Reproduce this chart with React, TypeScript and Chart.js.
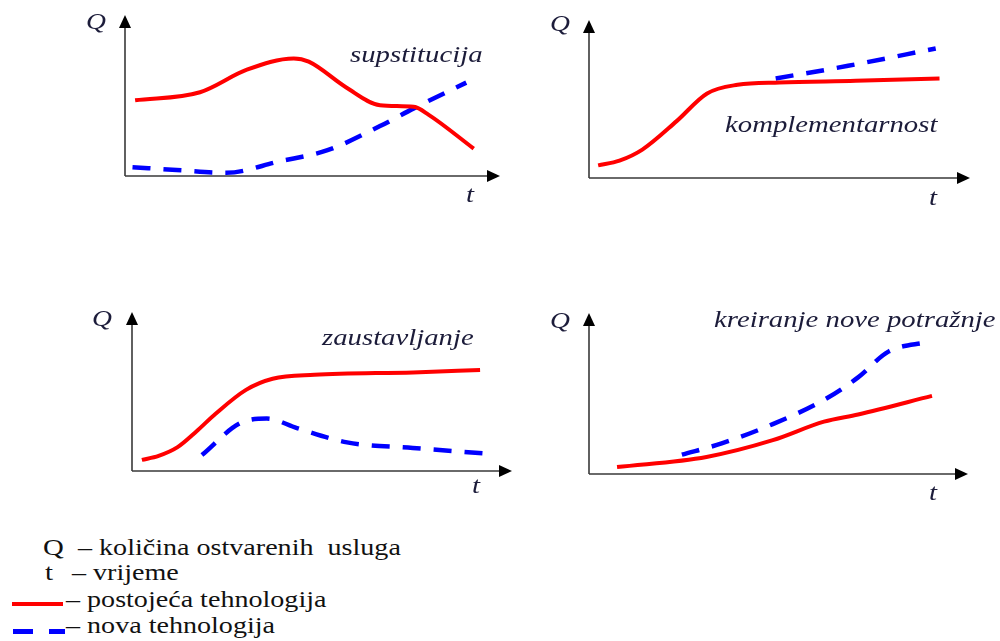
import React, { useEffect, useRef } from "react";
import { Chart, registerables } from "chart.js";

Chart.register(...registerables);

// ---------- data (t and Q on an arbitrary 0..10 scale) ----------
// Panel 1: supstitucija
const P1_RED_T = [0.27, 2.0, 3.25, 4.5, 4.9, 5.9, 6.8, 7.7, 8.1, 9.3];
const P1_RED_Q = [4.7, 5.2, 6.6, 7.3, 7.1, 5.5, 4.4, 4.3, 3.8, 1.7];
const P1_BLUE_T = [0.2, 1.5, 2.7, 4.1, 5.4, 6.8, 7.7, 9.1];
const P1_BLUE_Q = [0.55, 0.35, 0.2, 0.9, 1.6, 3.1, 4.2, 5.8];

// Panel 2: komplementarnost
const P2_RED_T = [0.24, 0.8, 1.4, 2.3, 3.1, 3.9, 5.0, 7.0, 9.2];
const P2_RED_Q = [0.8, 1.1, 1.8, 3.6, 5.35, 5.9, 6.05, 6.15, 6.3];
const P2_BLUE_T = [4.9, 6.8, 9.1];
const P2_BLUE_Q = [6.3, 7.1, 8.2];

// Panel 3: zaustavljanje
const P3_RED_T = [0.26, 0.7, 1.2, 1.7, 2.2, 3.0, 3.7, 4.8, 7.4, 9.16];
const P3_RED_Q = [0.7, 0.95, 1.5, 2.5, 3.6, 5.1, 5.8, 6.05, 6.2, 6.35];
const P3_BLUE_T = [1.84, 2.84, 3.55, 4.34, 5.66, 7.39, 9.29];
const P3_BLUE_Q = [1.0, 3.0, 3.3, 2.7, 1.8, 1.45, 1.1];

// Panel 4: kreiranje nove potražnje
const P4_RED_T = [0.74, 3.1, 4.85, 6.2, 7.1, 9.05];
const P4_RED_Q = [0.43, 1.06, 2.1, 3.25, 3.7, 4.85];
const P4_BLUE_T = [2.45, 3.5, 4.85, 6.2, 7.1, 7.9, 8.95];
const P4_BLUE_Q = [1.2, 1.9, 3.1, 4.6, 6.0, 7.6, 8.2];

const PANEL_TITLES = ["supstitucija", "komplementarnost", "zaustavljanje", "kreiranje nove potražnje"];
const AXIS_Y_LABEL = "Q";
const AXIS_X_LABEL = "t";
const LEGEND_LINES = [
  "– količina ostvarenih  usluga",
  "– vrijeme",
  "– postojeća tehnologija",
  "– nova tehnologija",
];

const RED = "#ff0000";
const BLUE = "#0000ff";
const TEXT = "#1c1c3a";
const SERIF = "'Liberation Serif', Tinos, 'Times New Roman', serif";

const zip = (t: number[], q: number[]) => t.map((x, i) => ({ x, y: q[i] }));

// chart area boxes (left, right, top, bottom) in page pixels
const PANELS = [
  { L: 125, R: 500, T: 15, B: 176, red: zip(P1_RED_T, P1_RED_Q), blue: zip(P1_BLUE_T, P1_BLUE_Q) },
  { L: 589, R: 970, T: 20, B: 178, red: zip(P2_RED_T, P2_RED_Q), blue: zip(P2_BLUE_T, P2_BLUE_Q) },
  { L: 132, R: 512, T: 312, B: 471, red: zip(P3_RED_T, P3_RED_Q), blue: zip(P3_BLUE_T, P3_BLUE_Q) },
  { L: 589, R: 968, T: 313, B: 474, red: zip(P4_RED_T, P4_RED_Q), blue: zip(P4_BLUE_T, P4_BLUE_Q) },
];

const PAD = { left: 30, top: 12, right: 20, bottom: 18 };

const arrowAxes = {
  id: "arrowAxes",
  beforeDatasetsDraw(chart: any) {
    const { ctx, chartArea } = chart;
    const { left, right, top, bottom } = chartArea;
    ctx.save();
    ctx.strokeStyle = "#3a3a3a";
    ctx.lineWidth = 1.6;
    ctx.beginPath();
    ctx.moveTo(left, bottom);
    ctx.lineTo(left, top + 10);
    ctx.moveTo(left, bottom);
    ctx.lineTo(right - 10, bottom);
    ctx.stroke();
    ctx.fillStyle = "#000";
    ctx.beginPath();
    ctx.moveTo(left, top);
    ctx.lineTo(left - 6, top + 13);
    ctx.lineTo(left + 6, top + 13);
    ctx.closePath();
    ctx.fill();
    ctx.beginPath();
    ctx.moveTo(right, bottom);
    ctx.lineTo(right - 13, bottom - 6);
    ctx.lineTo(right - 13, bottom + 6);
    ctx.closePath();
    ctx.fill();
    ctx.restore();
  },
};

function Panel({ p }: { p: typeof PANELS[number] }) {
  const ref = useRef<HTMLCanvasElement | null>(null);
  const w = p.R - p.L + PAD.left + PAD.right;
  const h = p.B - p.T + PAD.top + PAD.bottom;
  useEffect(() => {
    if (!ref.current) return;
    const chart = new Chart(ref.current, {
      type: "line",
      data: {
        datasets: [
          {
            data: p.red,
            borderColor: RED,
            borderWidth: 4,
            pointRadius: 0,
            cubicInterpolationMode: "monotone",
            fill: false,
            clip: false as any,
          },
          {
            data: p.blue,
            borderColor: BLUE,
            borderWidth: 4.5,
            borderDash: [18, 13],
            borderCapStyle: "butt",
            pointRadius: 0,
            cubicInterpolationMode: "monotone",
            fill: false,
            clip: false as any,
          },
        ],
      },
      options: {
        animation: false,
        responsive: false,
        events: [],
        layout: { padding: PAD },
        plugins: { legend: { display: false }, tooltip: { enabled: false }, title: { display: false } },
        scales: {
          x: { type: "linear", min: 0, max: 10, display: false },
          y: { type: "linear", min: 0, max: 10, display: false },
        },
      },
      plugins: [arrowAxes],
    } as any);
    return () => chart.destroy();
  }, []);
  return (
    <canvas
      ref={ref}
      width={w}
      height={h}
      style={{ position: "absolute", left: p.L - PAD.left, top: p.T - PAD.top, width: w, height: h }}
    />
  );
}

const SCALE = 1.2;

function Txt({
  x, baseline, size, italic, children, color, scale,
}: { x: number; baseline: number; size: number; italic?: boolean; children: React.ReactNode; color?: string; scale?: number }) {
  return (
    <span
      style={{
        position: "absolute",
        left: x,
        top: baseline - 0.8375 * size,
        fontFamily: SERIF,
        fontSize: size,
        lineHeight: `${size}px`,
        fontStyle: italic ? "italic" : "normal",
        color: color || TEXT,
        whiteSpace: "pre",
        display: "inline-block",
        transform: `scaleX(${scale ?? SCALE})`,
        transformOrigin: "left top",
      }}
    >
      {children}
    </span>
  );
}

export default function App() {
  const qPos = [
    { x: 86, b: 29 },
    { x: 550, b: 31 },
    { x: 92, b: 326 },
    { x: 550, b: 328 },
  ];
  const tPos = [
    { x: 466, b: 202 },
    { x: 929, b: 205 },
    { x: 472, b: 493 },
    { x: 929, b: 500 },
  ];
  const titlePos = [
    { x: 350, b: 62 },
    { x: 725, b: 132 },
    { x: 322, b: 345 },
    { x: 714, b: 327 },
  ];
  return (
    <div style={{ position: "absolute", left: 0, top: 0, width: 1000, height: 641, background: "#fff", overflow: "hidden" }}>
      {PANELS.map((p, i) => (
        <Panel key={i} p={p} />
      ))}
      {qPos.map((q, i) => (
        <Txt key={"q" + i} x={q.x} baseline={q.b} size={23} italic>
          {AXIS_Y_LABEL}
        </Txt>
      ))}
      {tPos.map((q, i) => (
        <Txt key={"t" + i} x={q.x} baseline={q.b} size={24} italic>
          {AXIS_X_LABEL}
        </Txt>
      ))}
      {titlePos.map((q, i) => (
        <Txt key={"h" + i} x={q.x} baseline={q.b} size={23} italic scale={1.25}>
          {PANEL_TITLES[i]}
        </Txt>
      ))}

      {/* legend */}
      <Txt x={43} baseline={555} size={24} color="#111">Q</Txt>
      <Txt x={78} baseline={555} size={24} color="#111" scale={1.17}>{LEGEND_LINES[0]}</Txt>
      <Txt x={45} baseline={580} size={24} color="#111">t</Txt>
      <Txt x={72} baseline={580} size={24} color="#111" scale={1.17}>{LEGEND_LINES[1]}</Txt>
      <div style={{ position: "absolute", left: 12, top: 602, width: 51, height: 4, background: RED }} />
      <Txt x={66} baseline={607} size={24} color="#111" scale={1.17}>{LEGEND_LINES[2]}</Txt>
      <div style={{ position: "absolute", left: 13, top: 629, width: 20, height: 5, background: BLUE }} />
      <div style={{ position: "absolute", left: 49, top: 629, width: 16, height: 5, background: BLUE }} />
      <Txt x={66} baseline={633} size={24} color="#111" scale={1.17}>{LEGEND_LINES[3]}</Txt>
    </div>
  );
}
